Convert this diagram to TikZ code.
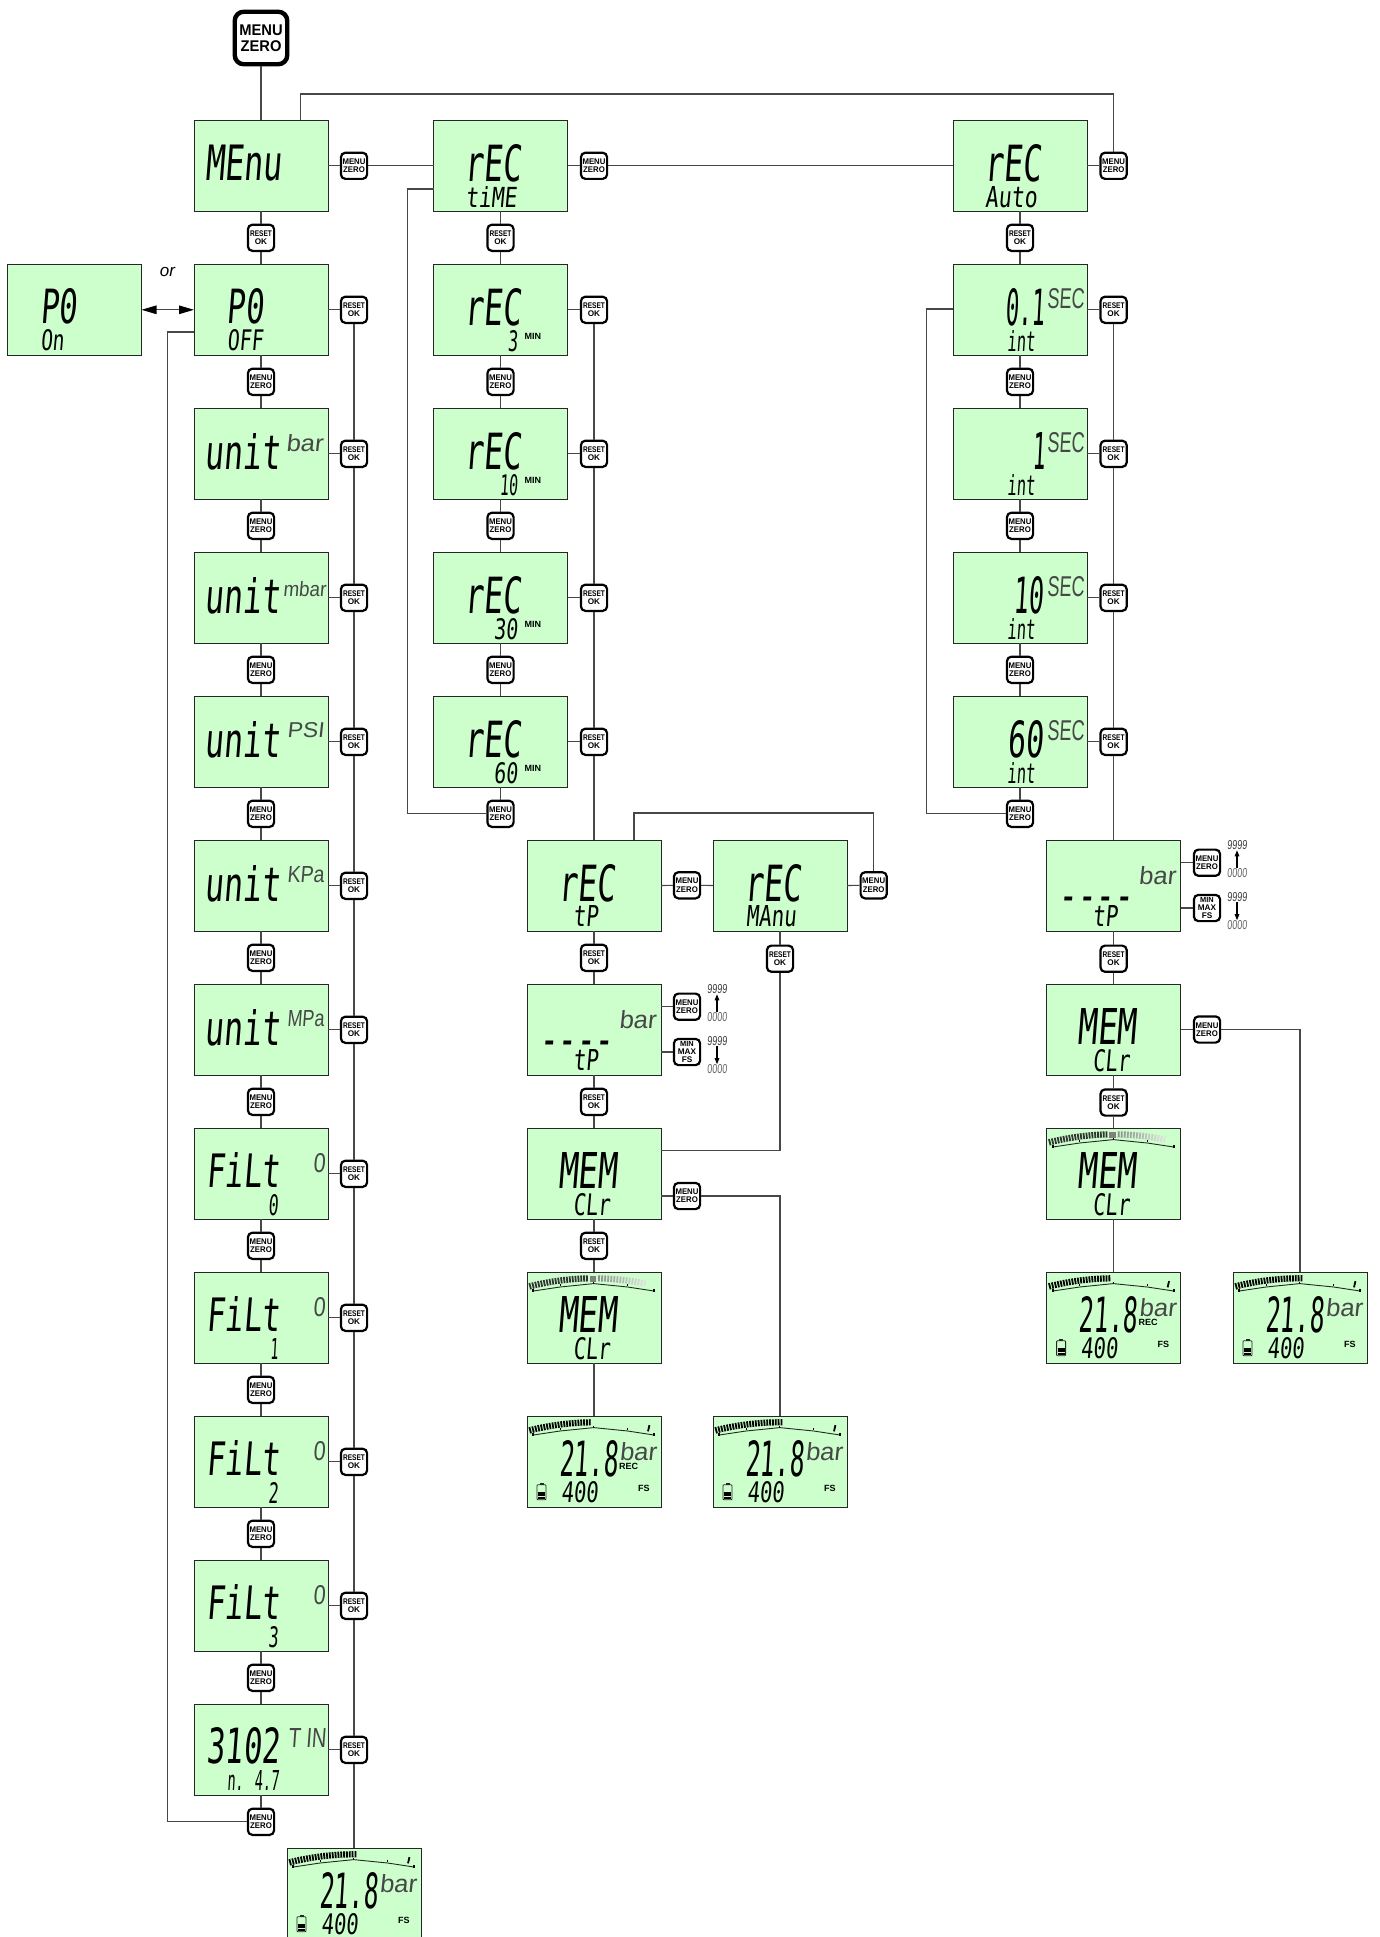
\documentclass[tikz,border=0pt]{standalone}
\usepackage{fontspec}
\usepackage{graphicx}
\setmainfont{Liberation Sans}
\newfontfamily\lcdf[FakeSlant=0.12]{DejaVu Sans Mono}
\newfontfamily\unitf[FakeSlant=0.1]{Liberation Sans}
\usetikzlibrary{arrows.meta,calc}
\definecolor{lcdg}{HTML}{CCFFCC}
\tikzset{
  screen/.style={draw=black!85,line width=0.9pt,fill=lcdg,minimum width=134pt,minimum height=91pt,inner sep=0pt,outer sep=0pt},
  btn/.style={draw=black,line width=2.2pt,fill=white,rounded corners=4.5pt,minimum width=26.2pt,minimum height=26.2pt,inner sep=0pt,outer sep=1.1pt,align=center,font=\bfseries\fontsize{8.2}{8.2}\selectfont},
  bigbtn/.style={draw=black,line width=4.4pt,fill=white,rounded corners=9pt,minimum width=52.5pt,minimum height=52.5pt,inner sep=0pt,outer sep=2.2pt,align=center,font=\bfseries\fontsize{15.5}{15.7}\selectfont},
  lnk/.style={draw=black!72,line width=1.15pt},
  lcdt/.style={inner sep=0pt,outer sep=0pt,anchor=base west},
  dbl/.style={lnk,{Triangle[length=15pt,width=8.5pt,black]}-{Triangle[length=15pt,width=8.5pt,black]}},
  tiny/.style={lnk,-{Triangle[length=6pt,width=4.5pt]},draw=black}
}
\newcounter{tc}
\newcommand\scr[3]{\pgfmathsetmacro\yy{165.8+144*#3}\node[screen] (#1) at (#2,\yy) {};}
\newcommand\MZ{\scalebox{.95}[1]{MENU}\\\scalebox{.95}[1]{ZERO}}
\newcommand\RO{\scalebox{.8}[1]{RESET}\\OK}
\newcommand\MM{\fontsize{7.4}{7.4}\selectfont MIN\\MAX\\FS}
% main LCD text: box, x, baseline, width, height, text
\newcommand\T[6]{\stepcounter{tc}\node[lcdt] (t\arabic{tc}) at ([shift={(#2,#3)}]#1.north west) {\resizebox{#4pt}{#5pt}{\lcdf #6}};}
% the row of dashes of the tP screens
\newcommand\Dsh[1]{\stepcounter{tc}\node[lcdt] (t\arabic{tc}) at ([shift={(12,61)}]#1.north west) {\raisebox{-11.5pt}[4pt][0pt]{\resizebox{74pt}{15.5pt}{\lcdf ----}}};}
% thin LCD unit text
\newcommand\U[6]{\stepcounter{tc}\node[lcdt,text=black!72] (t\arabic{tc}) at ([shift={(#2,#3)}]#1.north west) {\resizebox{#4pt}{#5pt}{\unitf #6}};}
% small bold printed text
\newcommand\B[4]{\stepcounter{tc}\node[lcdt] (t\arabic{tc}) at ([shift={(#2,#3)}]#1.north west) {\bfseries\fontsize{9}{9}\selectfont #4};}
\newcommand\barat[2]{\pgfmathsetmacro\yb{11.3+7.4*((#1-66.7)/60.7)^2-2.2}\pgfmathsetmacro\xt{#1+(#1-66.7)/60.7*1.6}\draw[line width=1.8pt,#2] (#1,\yb) -- (\xt,\yb-6.2);}
\newcommand\arcline{\draw[line width=0.9pt,black!85] (6.3,18.7) -- (33,14.7) -- (66.7,11.3) -- (100.7,14.7) -- (127,18.7);
  \foreach \qq in {33,66.7,100.7}{\pgfmathsetmacro\rr{11.3+7.4*((\qq-66.7)/60.7)^2}\draw[line width=1pt,black] (\qq,\rr) -- (\qq,\rr-1.8);}
  \fill (5.3,17) rectangle (7.3,19.5); \fill (126,17) rectangle (128,19.5);}
\newcommand\meterA[1]{\begin{scope}[shift={(#1.north west)}]\arcline
  \foreach \xx in {4,6.8,...,62}{\barat{\xx}{black!80}}
  \fill[black!50] (62.5,3.5) rectangle (69,10);
  \foreach \xx/\cc in {72/45,75/42,78/40,81/38,84/36,87/34,90/32,93/30,96/28,99/25,102/22,105/20,108/18,111/16,114/14,117/12}{\barat{\xx}{black!\cc}}
  \end{scope}}
\newcommand\meterB[2]{\begin{scope}[shift={(#1.north west)}]\arcline
  \foreach \xx in {4,6.8,...,#2}{\barat{\xx}{black}}
  \barat{121}{black}
  \end{scope}}
\newcommand\batt[1]{\begin{scope}[shift={(#1.north west)}]
  \draw[line width=0.8pt,rounded corners=0.8pt,black!85] (10,68.5) rectangle (19,83.5);
  \fill[black!85] (12.5,66.8) rectangle (16.5,68.5);
  \fill (11,75.5) rectangle (18,79.5); \fill (11,80.5) rectangle (18,82.5);
  \end{scope}}
% the run-mode display
\newcommand\disp[2]{\meterB{#1}{#2}
  \T{#1}{32}{60}{59}{36}{21.8}
  \U{#1}{92.5}{44}{37}{18}{bar}
  \T{#1}{34}{86.2}{37}{21}{400}
  \B{#1}{111}{74.8}{FS}
  \batt{#1}}
\newcommand\updn[3]{%
  \node[inner sep=0pt,text=black!75] (#1a) at (#2,#3) {\resizebox{20pt}{9pt}{\unitf 9999}};
  \node[inner sep=0pt,text=black!60] (#1b) at (#2,#3+27.5) {\resizebox{20pt}{9pt}{\unitf 0000}};
  \node[inner sep=0pt,text=black!75] (#1c) at (#2,#3+52) {\resizebox{20pt}{9pt}{\unitf 9999}};
  \node[inner sep=0pt,text=black!60] (#1d) at (#2,#3+79.5) {\resizebox{20pt}{9pt}{\unitf 0000}};
  \draw[tiny] (#1b) -- (#1a);
  \draw[tiny] (#1c) -- (#1d);}
\begin{document}
\begin{tikzpicture}[x=1pt,y=-1pt]
\useasboundingbox (0,0) rectangle (1380,1937);
\fill[white] (0,0) rectangle (1380,1937);

% ---------- column A
\node[bigbtn] (top) at (261,38) {\MZ};
\foreach \kk in {0,...,11}{\scr{a\kk}{261}{\kk}}
\scr{aEnd}{354}{12}
\scr{pon}{74.5}{1}
\node[font=\itshape\fontsize{17}{17}\selectfont] (ortxt) at (167.5,272) {or};
\node[btn] (ba0) at (261,237.8) {\RO};
\foreach \kk in {1,...,11}{\pgfmathsetmacro\yy{237.8+144*\kk}\node[btn] (ba\kk) at (261,\yy) {\MZ};}
\foreach \kk in {1,...,11}{\pgfmathsetmacro\yy{165.8+144*\kk}\node[btn] (sa\kk) at (354,\yy) {\RO};}
\node[btn] (sa0) at (354,165.8) {\MZ};

\T{a0}{11}{60.5}{77}{35.5}{MEnu}
\T{a1}{32.5}{59}{37}{35}{P0}
\T{a1}{33}{86.5}{36}{21}{OFF}
\T{pon}{32.5}{59}{37}{35}{P0}
\T{pon}{33}{86.5}{23.5}{21}{On}
\foreach \kk/\unt/\xa/\wa/\ya/\ha in {2/bar/92/37/43/17,3/mbar/89/43/44/15,4/PSI/93/37/41/15,5/KPa/93/37/42/16,6/MPa/93/37/42/16}{
  \T{a\kk}{10}{61}{76}{36}{unit}
  \U{a\kk}{\xa}{\ya}{\wa}{\ha}{\unt}}
\foreach \kk/\dgt/\xdg/\wdg in {7/0/74/10,8/1/76/8,9/2/74/10,10/3/74/10}{
  \T{a\kk}{12}{59}{74}{35}{FiLt}
  \U{a\kk}{119}{44}{12}{19}{0}
  \T{a\kk}{\xdg}{87}{\wdg}{21}{\dgt}}
\T{a11}{12.7}{59}{73}{36}{3102}
\U{a11}{94}{43}{38}{19}{T IN}
\T{a11}{33}{86}{52}{20}{n. 4.7}
\disp{aEnd}{70}

% ---------- column B
\foreach \kk in {0,...,4}{\scr{b\kk}{500.5}{\kk}}
\node[btn] (bb0) at (500.5,237.8) {\RO};
\foreach \kk in {1,...,4}{\pgfmathsetmacro\yy{237.8+144*\kk}\node[btn] (bb\kk) at (500.5,\yy) {\MZ};}
\foreach \kk in {1,...,4}{\pgfmathsetmacro\yy{165.8+144*\kk}\node[btn] (sb\kk) at (594,\yy) {\RO};}
\node[btn] (sb0) at (594,165.8) {\MZ};
\foreach \kk in {0,...,4}{\T{b\kk}{31}{61}{57}{37}{rEC}}
\T{b0}{32}{87}{51}{21}{tiME}
\T{b1}{74}{87}{10}{21}{3}
\T{b2}{66}{87}{18}{21}{10}
\T{b3}{60}{87}{24}{21}{30}
\T{b4}{60}{87}{24}{21}{60}
\foreach \kk in {1,...,4}{\B{b\kk}{91}{75}{MIN}}

% ---------- column D / E
\scr{d0}{594}{5}\scr{d1}{594}{6}\scr{d2}{594}{7}\scr{d3}{594}{8}\scr{d4}{594}{9}
\scr{e0}{780}{5}\scr{e4}{780}{9}
\node[btn] (sd0) at (687,885.3) {\MZ};
\node[btn] (se0) at (873.7,885.3) {\MZ};
\node[btn] (bd0) at (594,957.8) {\RO};
\node[btn] (be0) at (780,958.7) {\RO};
\node[btn] (bd1) at (594,1101.8) {\RO};
\node[btn] (bd2) at (594,1245.8) {\RO};
\node[btn] (sd1a) at (687,1006.7) {\MZ};
\node[btn] (sd1b) at (687,1052) {\MM};
\node[btn] (sd2) at (687,1196) {\MZ};
\updn{ud}{717}{989.5}
\T{d0}{31}{61}{57}{37}{rEC}
\T{d0}{46}{86.5}{25}{21}{tP}
\T{e0}{31}{61}{57}{37}{rEC}
\T{e0}{33}{86.5}{50}{21}{MAnu}
\U{d1}{92}{44}{37}{18}{bar}
\Dsh{d1}
\T{d1}{46}{86.5}{25}{21}{tP}
\T{d2}{31}{60}{59}{36}{MEM}
\T{d2}{46}{87}{37}{22}{CLr}
\meterA{d3}
\T{d3}{31}{60}{59}{36}{MEM}
\T{d3}{46}{87}{37}{22}{CLr}
\disp{d4}{64}
\B{d4}{92}{53.5}{REC}
\disp{e4}{70}

% ---------- column F
\foreach \kk in {0,...,4}{\scr{f\kk}{1020}{\kk}}
\node[btn] (bf0) at (1020,237.8) {\RO};
\foreach \kk in {1,...,4}{\pgfmathsetmacro\yy{237.8+144*\kk}\node[btn] (bf\kk) at (1020,\yy) {\MZ};}
\foreach \kk in {1,...,4}{\pgfmathsetmacro\yy{165.8+144*\kk}\node[btn] (sf\kk) at (1113.6,\yy) {\RO};}
\node[btn] (sf0) at (1113.6,165.8) {\MZ};
\T{f0}{31}{61}{57}{37}{rEC}
\T{f0}{32}{87}{52}{21}{Auto}
\T{f1}{52}{61}{40}{37}{0.1}
\T{f2}{79}{61}{13}{37}{1}
\T{f3}{60}{61}{30}{37}{10}
\T{f4}{54}{61}{36}{37}{60}
\foreach \kk in {1,...,4}{\U{f\kk}{94}{44}{37}{20}{SEC}\T{f\kk}{54}{87}{28}{21}{int}}

% ---------- column G / H
\scr{g0}{1113.6}{5}\scr{g1}{1113.6}{6}\scr{g2}{1113.6}{7}\scr{g3}{1113.6}{8}
\scr{h3}{1300}{8}
\node[btn] (bg0) at (1113.6,958.7) {\RO};
\node[btn] (bg1) at (1113.6,1102.5) {\RO};
\node[btn] (sg0a) at (1207,862.7) {\MZ};
\node[btn] (sg0b) at (1207,908) {\MM};
\node[btn] (sg1) at (1207,1029.5) {\MZ};
\updn{ug}{1237}{845.5}
\U{g0}{92}{44}{37}{18}{bar}
\Dsh{g0}
\T{g0}{46}{86.5}{25}{21}{tP}
\T{g1}{31}{60}{59}{36}{MEM}
\T{g1}{46}{87}{37}{22}{CLr}
\meterA{g2}
\T{g2}{31}{60}{59}{36}{MEM}
\T{g2}{46}{87}{37}{22}{CLr}
\disp{g3}{64}
\B{g3}{92}{53.5}{REC}
\disp{h3}{70}

% ---------- free ends and corners
\coordinate (lpA) at (300.7,120.3);
\coordinate (lpB) at (300.7,94);
\coordinate (pfA) at (194,332);
\coordinate (pfB) at (167.3,1821.8);
\coordinate (tmA) at (433.5,189);
\coordinate (tmB) at (407.5,813.8);
\coordinate (tpA) at (634,840.3);
\coordinate (tpB) at (634,813);
\coordinate (mmA) at (661,1150.7);
\coordinate (d1A) at (661,1006.7);
\coordinate (d1B) at (661,1052);
\coordinate (d2A) at (661,1196);
\coordinate (inA) at (953,309);
\coordinate (inB) at (926.6,813.8);
\coordinate (g0A) at (1180.6,862.7);
\coordinate (g0B) at (1180.6,908);
\coordinate (g1A) at (1180.6,1029.5);

% ---------- connectors
\draw[lnk] (top) -- (a0);
\foreach \kk [count=\nn from 1] in {0,...,10}{\draw[lnk] (a\kk) -- (ba\kk) -- (a\nn);}
\draw[lnk] (a11) -- (ba11);
\draw[lnk] (pfA) -| (pfB) -- (ba11);
\foreach \kk in {1,...,11}{\draw[lnk] (a\kk) -- (sa\kk);}
\foreach \kk [count=\nn from 2] in {1,...,10}{\draw[lnk] (sa\kk) -- (sa\nn);}
\draw[lnk] (sa11) -- (aEnd);
\draw[dbl] (pon) -- (a1);
\draw[lnk] (a0) -- (sa0) -- (b0) -- (sb0) -- (f0) -- (sf0);
\draw[lnk] (sf0) |- (lpB) -- (lpA);

\foreach \kk [count=\nn from 1] in {0,...,3}{\draw[lnk] (b\kk) -- (bb\kk) -- (b\nn);}
\draw[lnk] (b4) -- (bb4);
\draw[lnk] (tmA) -| (tmB) -- (bb4);
\foreach \kk in {1,...,4}{\draw[lnk] (b\kk) -- (sb\kk);}
\foreach \kk [count=\nn from 2] in {1,...,3}{\draw[lnk] (sb\kk) -- (sb\nn);}
\draw[lnk] (sb4) -- (d0);

\draw[lnk] (d0) -- (sd0) -- (e0) -- (se0);
\draw[lnk] (se0) |- (tpB) -- (tpA);
\draw[lnk] (d0) -- (bd0) -- (d1) -- (bd1) -- (d2) -- (bd2) -- (d3) -- (d4);
\draw[lnk] (e0) -- (be0);
\draw[lnk] (be0) |- (mmA);
\draw[lnk] (d1A) -- (sd1a);
\draw[lnk] (d1B) -- (sd1b);
\draw[lnk] (d2A) -- (sd2);
\draw[lnk] (sd2) -| (e4);

\foreach \kk [count=\nn from 1] in {0,...,3}{\draw[lnk] (f\kk) -- (bf\kk) -- (f\nn);}
\draw[lnk] (f4) -- (bf4);
\draw[lnk] (inA) -| (inB) -- (bf4);
\foreach \kk in {1,...,4}{\draw[lnk] (f\kk) -- (sf\kk);}
\foreach \kk [count=\nn from 2] in {1,...,3}{\draw[lnk] (sf\kk) -- (sf\nn);}
\draw[lnk] (sf4) -- (g0);
\draw[lnk] (g0) -- (bg0) -- (g1) -- (bg1) -- (g2) -- (g3);
\draw[lnk] (g0A) -- (sg0a);
\draw[lnk] (g0B) -- (sg0b);
\draw[lnk] (g1A) -- (sg1);
\draw[lnk] (sg1) -| (h3);
\end{tikzpicture}
\end{document}
